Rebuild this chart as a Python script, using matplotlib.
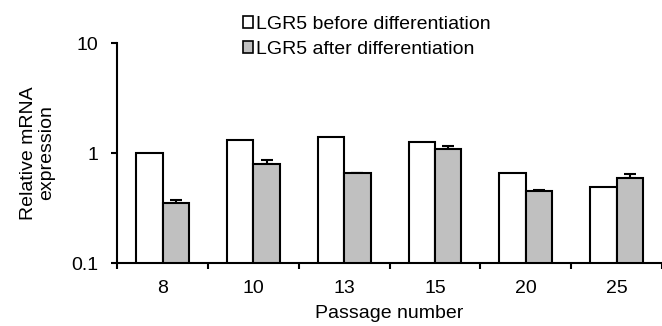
import numpy as np
import matplotlib
matplotlib.use("Agg")
import matplotlib.pyplot as plt
from matplotlib.patches import Patch

plt.rcParams['font.family'] = ['Liberation Sans', 'DejaVu Sans']

# LGR5 qPCR, relative to passage 8 before differentiation
passages = ['8', '10', '13', '15', '20', '25']
before = [1.0, 1.31, 1.39, 1.26, 0.654, 0.49]
after = [0.349, 0.80, 0.654, 1.08, 0.449, 0.596]
after_err = [0.022, 0.07, 0.01, 0.09, 0.012, 0.05]

x = np.arange(len(passages))
w = 0.29
lw = 1.5
fs = 14

fig = plt.figure(figsize=(6.62, 3.26), dpi=100)
ax = fig.add_axes([0.177, 0.193, 0.823, 0.675])

ax.bar(x - w / 2, before, w, color='white', edgecolor='black', linewidth=lw, zorder=2)
ax.bar(x + w / 2, after, w, color='#c0c0c0', edgecolor='black', linewidth=lw, zorder=2)
ax.errorbar(x + w / 2, after, yerr=[np.zeros(len(after)), after_err], fmt='none',
            ecolor='black', elinewidth=lw, capsize=4, capthick=lw, zorder=1)

ax.set_yscale('log')
ax.set_ylim(0.1, 10)
ax.set_yticks([0.1, 1, 10])
ax.set_yticklabels(['0.1', '1', '10'])
ax.yaxis.set_minor_locator(matplotlib.ticker.NullLocator())
ax.set_xlim(-0.5, 5.43)

ax.set_xticks(x)
ax.set_xticklabels(passages)
ax.set_xticks(np.arange(-0.5, 6, 1), minor=True)
ax.tick_params(axis='x', which='major', length=0, pad=12, labelsize=fs)
ax.tick_params(axis='x', which='minor', length=4, width=lw, direction='out')
ax.tick_params(axis='y', length=4.3, width=lw, direction='out', labelsize=fs, pad=9)

for s in ['top', 'right']:
    ax.spines[s].set_visible(False)
for s in ['left', 'bottom']:
    ax.spines[s].set_linewidth(lw)

ax.set_xlabel('Passage number', fontsize=fs, labelpad=6)
ax.set_ylabel('Relative mRNA\nexpression', fontsize=fs, labelpad=12, linespacing=1.05)

handles = [Patch(facecolor='white', edgecolor='black', linewidth=1.2),
           Patch(facecolor='#c0c0c0', edgecolor='black', linewidth=1.2)]
fig.legend(handles, ['LGR5 before differentiation', 'LGR5 after differentiation'],
           loc='upper left', bbox_to_anchor=(0.355, 0.975), frameon=False, fontsize=fs,
           handlelength=0.55, handleheight=0.55, handletextpad=0.15, labelspacing=0.4,
           borderaxespad=0.0)

fig.savefig('out.png', dpi=100)
